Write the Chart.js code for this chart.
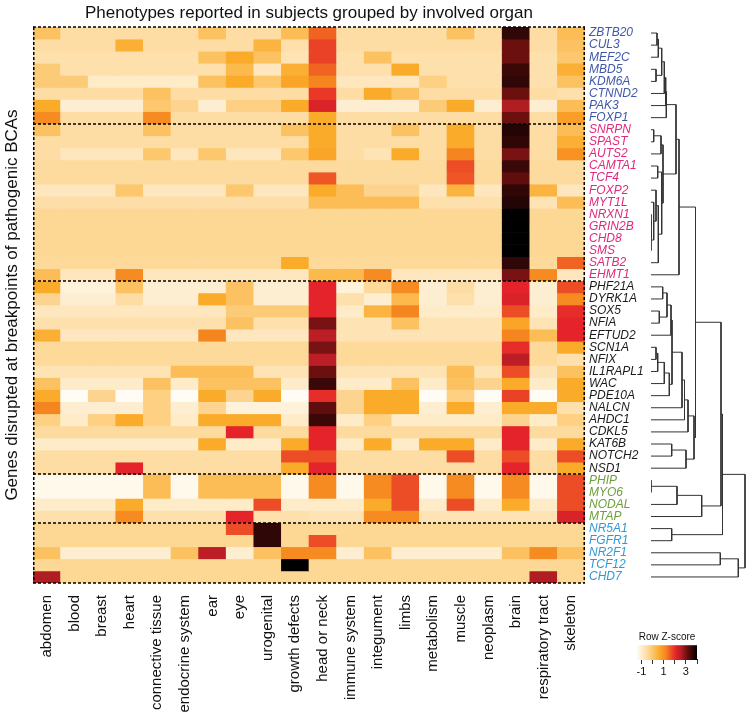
<!DOCTYPE html>
<html>
<head>
<meta charset="utf-8">
<script src="https://cdn.jsdelivr.net/npm/chart.js@4.4.1/dist/chart.umd.min.js"></script>
<style>
body{margin:0;background:#fff;width:754px;height:722px;position:relative;overflow:hidden}
canvas{position:absolute}
</style>
</head>
<body>
<canvas id="heat" width="754" height="722" style="left:0;top:0"></canvas>
<canvas id="dendro" width="109" height="722" style="left:645px;top:0"></canvas>
<canvas id="key" width="150" height="52" style="left:600px;top:628px"></canvas>
<script>
const FONT="'Liberation Sans', Arial, sans-serif";

const organs=['abdomen','blood','breast','heart','connective tissue','endocrine system','ear','eye','urogenital','growth defects','head or neck','immune system','integument','limbs','metabolism','muscle','neoplasm','brain','respiratory tract','skeleton'];

const genes=['ZBTB20','CUL3','MEF2C','MBD5','KDM6A','CTNND2','PAK3','FOXP1',
 'SNRPN','SPAST','AUTS2','CAMTA1','TCF4','FOXP2','MYT1L','NRXN1','GRIN2B','CHD8','SMS','SATB2','EHMT1',
 'PHF21A','DYRK1A','SOX5','NFIA','EFTUD2','SCN1A','NFIX','IL1RAPL1','WAC','PDE10A','NALCN','AHDC1','CDKL5','KAT6B','NOTCH2','NSD1',
 'PHIP','MYO6','NODAL','MTAP',
 'NR5A1','FGFR1','NR2F1','TCF12','CHD7'];

const groupSizes=[8,13,16,4,5];
const groupColors=['#3f58a8','#e0287c','#1a1a1a','#6f9e3c','#2f98d6'];

// row Z-scores, one row per gene, columns follow organs
const zScores=[
 [0.1,-0.5,-0.5,-0.5,-0.5,-0.5,0.1,-0.5,-0.5,0.2,1.5,-0.5,-0.5,-0.5,-0.5,0.1,-0.5,3.6,-0.5,0.2],
 [-0.5,-0.5,-0.5,0.5,-0.5,-0.5,-0.5,-0.5,0.4,-0.6,1.8,-0.5,-0.5,-0.5,-0.5,-0.5,-0.5,3.1,-0.5,0.1],
 [-0.6,-0.6,-0.6,-0.6,-0.6,-0.6,0.1,0.6,0.1,-0.7,1.8,-0.6,0.1,-0.6,-0.6,-0.6,-0.6,3.1,-0.6,0.0],
 [-0.1,-0.6,-0.6,-0.6,-0.6,-0.6,-0.6,0.3,-0.8,0.5,1.5,-0.6,-0.6,0.6,-0.6,-0.6,-0.6,3.5,-0.6,0.5],
 [-0.1,-0.1,-0.9,-0.9,-0.9,-0.9,0.1,0.6,0.0,0.7,1.2,-0.8,-0.8,-0.8,-0.2,-0.6,-0.6,3.6,-0.6,0.1],
 [-0.5,-0.5,-0.5,-0.5,0.1,-0.5,-0.5,-0.5,-0.5,-0.5,1.9,-0.5,0.6,0.1,-0.5,-0.5,-0.5,3.1,-0.5,-0.6],
 [0.6,-1.0,-1.0,-1.0,0.0,-0.3,-1.0,-0.2,-0.2,0.6,2.2,-1.0,-1.0,-1.0,-0.1,0.6,-1.0,2.6,-1.0,0.2],
 [1.1,-0.5,-0.5,-0.5,1.1,-0.5,-0.5,-0.5,-0.5,-0.5,0.6,-0.5,-0.5,-0.5,-0.5,-0.5,-0.5,3.1,-0.5,0.8],
 [0.1,-0.5,-0.5,-0.5,0.1,-0.5,-0.5,-0.5,-0.5,0.1,0.6,-0.5,-0.5,0.1,-0.5,0.6,-0.5,3.7,-0.5,0.2],
 [-0.5,-0.5,-0.5,-0.5,-0.5,-0.5,-0.5,-0.5,-0.5,-0.5,0.6,-0.5,-0.5,-0.5,-0.5,0.6,-0.5,3.6,-0.5,0.5],
 [-0.5,-0.8,-0.8,-0.8,0.0,-0.8,0.0,-0.8,-0.8,0.0,0.7,-0.5,-0.7,0.6,-0.5,1.2,-0.5,3.0,-0.5,1.0],
 [-0.45,-0.45,-0.45,-0.45,-0.45,-0.45,-0.45,-0.45,-0.45,-0.45,-0.45,-0.45,-0.45,-0.45,-0.45,1.7,-0.45,3.5,-0.45,-0.45],
 [-0.45,-0.45,-0.45,-0.45,-0.45,-0.45,-0.45,-0.45,-0.45,-0.45,1.6,-0.45,-0.45,-0.45,-0.45,1.6,-0.45,3.2,-0.45,-0.45],
 [-0.8,-0.8,-0.8,0.0,-0.8,-0.8,-0.8,0.0,-0.8,-0.8,0.6,0.2,-0.3,-0.3,-0.8,0.4,-0.8,3.6,0.4,-0.8],
 [-0.55,-0.55,-0.55,-0.55,-0.55,-0.55,-0.55,-0.55,-0.55,-0.55,0.2,0.2,0.2,0.2,-0.6,-0.6,-0.6,3.7,-0.7,0.2],
 [-0.35,-0.35,-0.35,-0.35,-0.35,-0.35,-0.35,-0.35,-0.35,-0.35,-0.35,-0.35,-0.35,-0.35,-0.35,-0.35,-0.35,4.0,-0.35,-0.35],
 [-0.35,-0.35,-0.35,-0.35,-0.35,-0.35,-0.35,-0.35,-0.35,-0.35,-0.35,-0.35,-0.35,-0.35,-0.35,-0.35,-0.35,4.0,-0.35,-0.35],
 [-0.35,-0.35,-0.35,-0.35,-0.35,-0.35,-0.35,-0.35,-0.35,-0.35,-0.35,-0.35,-0.35,-0.35,-0.35,-0.35,-0.35,4.0,-0.35,-0.35],
 [-0.35,-0.35,-0.35,-0.35,-0.35,-0.35,-0.35,-0.35,-0.35,-0.35,-0.35,-0.35,-0.35,-0.35,-0.35,-0.35,-0.35,4.0,-0.35,-0.35],
 [-0.4,-0.4,-0.4,-0.4,-0.4,-0.4,-0.4,-0.4,-0.4,0.6,-0.4,-0.4,-0.4,-0.4,-0.4,-0.4,-0.4,3.6,-0.4,1.5],
 [0.2,-0.8,-0.8,1.1,-0.8,-0.8,-0.8,-0.8,-0.8,-0.8,0.3,0.3,1.1,-0.8,-0.8,-0.8,-0.8,3.0,1.1,-0.8],
 [0.6,-1.1,-1.1,0.1,-1.0,-1.0,-1.0,0.1,-1.0,-1.0,2.1,-1.1,-0.4,1.1,-1.0,-0.5,-1.0,2.1,-1.0,1.7],
 [-0.3,-1.0,-1.0,-0.5,-1.0,-1.0,0.6,0.1,-1.0,-1.0,2.1,-0.6,-1.0,0.3,-1.0,-0.6,-1.0,2.2,-1.0,1.1],
 [-0.8,-0.8,-0.8,-0.8,-0.8,-0.8,-0.8,-0.1,-0.1,-0.1,2.1,-0.9,0.4,1.2,-0.9,-0.9,-0.9,1.7,-0.9,2.0],
 [-0.6,-0.6,-0.6,-0.6,-0.6,-0.6,-0.6,0.1,-0.6,-0.6,3.0,-0.7,-0.7,0.1,-0.7,-0.7,-0.7,0.7,-0.7,2.1],
 [0.5,-0.8,-0.8,-0.8,-0.8,-0.8,1.2,-0.8,-0.8,-0.8,2.5,-0.7,-0.7,-0.7,-0.7,-0.7,-0.7,1.2,0.2,2.1],
 [-0.4,-0.4,-0.4,-0.4,-0.4,-0.4,-0.4,-0.4,-0.4,-0.4,3.0,-0.4,-0.4,-0.4,-0.4,-0.4,-0.4,2.0,-0.4,0.6],
 [-0.4,-0.4,-0.4,-0.4,-0.4,-0.4,-0.4,-0.4,-0.4,-0.4,2.5,-0.4,-0.4,-0.4,-0.4,-0.4,-0.4,2.5,-0.4,-0.6],
 [-0.7,-0.7,-0.7,-0.7,-0.7,0.2,0.2,0.2,-0.7,-0.7,3.1,-0.7,-0.7,-0.7,-0.7,0.2,-0.7,1.7,-0.7,0.1],
 [0.1,-0.9,-0.9,-0.9,0.1,-0.9,0.1,0.1,0.1,-0.9,3.5,-0.9,-0.9,0.1,-0.9,0.1,-0.3,0.6,-0.9,0.6],
 [0.6,-1.4,-0.3,-1.4,-0.2,-1.4,0.6,-0.3,0.6,-1.4,2.0,-0.3,0.6,0.6,-1.4,-0.2,-1.4,1.8,-1.4,0.6],
 [1.2,-1.0,-1.0,-1.0,-0.2,-1.0,-0.3,-1.1,-1.1,-1.1,3.2,-0.3,0.6,0.6,-1.0,0.6,-1.0,0.6,0.6,-0.6],
 [-0.2,-0.9,-0.2,0.6,-0.2,-0.9,0.6,0.6,0.6,-0.9,3.5,-0.9,-0.2,-0.9,-0.9,-0.9,-0.9,-0.3,-0.9,-0.2],
 [-0.45,-0.45,-0.45,-0.45,-0.45,-0.45,-0.45,2.1,-0.45,-0.45,2.1,-0.45,-0.45,-0.45,-0.45,-0.45,-0.45,2.1,-0.45,-0.45],
 [-0.9,-0.9,-0.9,-0.9,-0.9,-0.9,0.6,-0.9,-0.9,0.6,2.1,-0.9,0.6,-0.9,0.6,0.6,-0.9,2.1,-0.9,0.6],
 [-0.5,-0.5,-0.5,-0.5,-0.5,-0.5,-0.5,-0.5,-0.5,1.7,1.7,-0.5,-0.5,-0.5,-0.5,1.7,-0.5,1.7,-0.5,1.7],
 [-0.5,-0.5,-0.5,2.1,-0.5,-0.5,-0.5,-0.5,-0.5,0.6,2.1,-0.5,-0.5,-0.5,-0.5,-0.5,-0.5,2.1,-0.5,0.6],
 [-1.3,-1.3,-1.3,-1.3,0.2,-1.3,0.2,0.2,0.2,-1.3,1.1,-1.3,1.1,1.7,-1.3,1.1,-1.3,1.1,-1.3,1.7],
 [-1.3,-1.3,-1.3,-1.3,0.2,-1.3,0.2,0.2,0.2,-1.3,1.1,-1.3,1.1,1.7,-1.3,1.1,-1.3,1.1,-1.3,1.7],
 [-0.9,-0.9,-0.9,0.6,-0.9,-0.9,-0.9,-0.9,1.7,-0.9,-0.9,-0.9,0.6,1.7,-0.9,1.7,-0.9,0.6,-0.9,1.7],
 [-0.6,-0.6,-0.6,1.1,-0.6,-0.6,-0.6,2.1,-0.6,-0.6,-0.7,-0.7,1.1,1.1,-0.7,-0.7,-0.7,-0.7,-0.7,2.2],
 [-0.35,-0.35,-0.35,-0.35,-0.35,-0.35,-0.35,1.7,3.6,-0.35,-0.35,-0.35,-0.35,-0.35,-0.35,-0.35,-0.35,-0.35,-0.35,-0.35],
 [-0.35,-0.35,-0.35,-0.35,-0.35,-0.35,-0.35,-0.35,3.6,-0.35,1.7,-0.35,-0.35,-0.35,-0.35,-0.35,-0.35,-0.35,-0.35,-0.35],
 [0.1,-1.0,-1.0,-1.0,-1.0,0.1,2.5,-1.0,0.1,1.1,1.1,-1.0,0.1,-1.0,-1.0,-1.0,-1.0,0.1,1.1,0.1],
 [-0.35,-0.35,-0.35,-0.35,-0.35,-0.35,-0.35,-0.35,-0.35,4.0,-0.35,-0.35,-0.35,-0.35,-0.35,-0.35,-0.35,-0.35,-0.35,-0.35],
 [2.6,-0.35,-0.35,-0.35,-0.35,-0.35,-0.35,-0.35,-0.35,-0.35,-0.35,-0.35,-0.35,-0.35,-0.35,-0.35,-0.35,-0.35,2.6,-0.35]
];

// row dendrogram, hclust style: negative = gene (1-based), positive = earlier merge; last = height
const merges=[
 [-1,-2,6],[1,-3,7.3],[-4,-5,5],[2,3,10.7],[4,-6,13.3],[5,-7,14.7],[6,-8,15.3],
 [-9,-10,2.7],[8,-11,10],[-12,-13,6.7],[-16,-17,0],[11,-18,0],[12,-19,0],
 [-15,13,2.7],[-14,14,5],[15,-20,7.3],[10,16,10.7],[9,17,12],[7,18,25],[19,-21,28],
 [-22,-23,11.7],[-24,-25,8.3],[21,22,16],[23,-26,20],[-27,-28,5],[25,-29,6.7],[26,-30,13.3],
 [27,-31,18.3],[24,28,21],[29,-32,31],[30,-33,33.5],[31,-34,37],[-35,-36,20.7],[33,-37,35],[32,34,43],
 [20,35,44.5],
 [-38,-39,0],[37,-40,26],[38,-41,50.7],[-42,-43,20.7],[-44,-45,69.3],[41,-46,87.3],
 [36,39,70],[43,40,71.5],[44,42,94]
];

const keyRange=[-1.4,4.0];
const keyTicks=[-1,0,1,2,3,4];
const keyLabels=[-1,1,3];

const zStops=[-1.4,-0.4,0.6,1.2,1.7,2.1,2.6,3.1,4.0];
const zColors=['#fffcf5','#fdd99a','#fbab2a','#f5851f','#ec4c26','#e5232a','#b01d23','#6b0f0f','#000000'];

function hexRgb(h){return [1,3,5].map(i=>parseInt(h.slice(i,i+2),16));}
function heatColor(z){
  if(z<=zStops[0])return zColors[0];
  for(let i=1;i<zStops.length;i++){
    if(z<=zStops[i]){
      const t=(z-zStops[i-1])/(zStops[i]-zStops[i-1]);
      const a=hexRgb(zColors[i-1]),b=hexRgb(zColors[i]);
      return 'rgb('+a.map((v,k)=>Math.round(v+(b[k]-v)*t)).join(',')+')';
    }
  }
  return zColors[zColors.length-1];
}

const geneGroup=[];
groupSizes.forEach((n,g)=>{for(let i=0;i<n;i++)geneGroup.push(g);});

const groupBoxes={
  id:'groupBoxes',
  afterDatasetsDraw(c){
    const {ctx,chartArea:a,scales:{y}}=c;
    ctx.save();
    ctx.strokeStyle='#000';ctx.lineWidth=1.5;ctx.setLineDash([3,2]);
    ctx.beginPath();
    let start=0;
    const lines=[0];
    groupSizes.forEach(n=>{start+=n;lines.push(start);});
    lines.forEach(v=>{const py=Math.round(y.getPixelForValue(v));ctx.moveTo(a.left,py);ctx.lineTo(a.right,py);});
    ctx.moveTo(a.left+0.75,a.top);ctx.lineTo(a.left+0.75,a.bottom);
    ctx.moveTo(a.right-0.75,a.top);ctx.lineTo(a.right-0.75,a.bottom);
    ctx.stroke();
    ctx.restore();
  }
};

new Chart(document.getElementById('heat'),{
  type:'bar',
  data:{
    labels:organs,
    datasets:genes.map((g,r)=>({
      label:g,data:organs.map(()=>1),
      backgroundColor:zScores[r].map(heatColor),
      borderWidth:0,barPercentage:1,categoryPercentage:1,
      xAxisID:'x',yAxisID:'y'
    }))
  },
  options:{
    responsive:false,animation:false,devicePixelRatio:1,
    layout:{padding:0},
    plugins:{
      legend:{display:false},tooltip:{enabled:false},
      title:{display:true,fullSize:false,text:'Phenotypes reported in subjects grouped by involved organ',
        color:'#111',font:{family:FONT,size:17,weight:'normal',lineHeight:1.2},padding:{top:3,bottom:3.6}}
    },
    scales:{
      x:{type:'category',stacked:true,position:'bottom',
        grid:{display:false},border:{display:false},
        ticks:{minRotation:90,maxRotation:90,autoSkip:false,color:'#111',padding:4,font:{family:FONT,size:15}},
        afterFit(s){s.height=139;}},
      y:{type:'linear',stacked:true,position:'right',reverse:true,min:0,max:46,
        grid:{display:false,drawTicks:false},border:{display:false},
        afterBuildTicks(s){s.ticks=genes.map((g,i)=>({value:i+0.5}));},
        ticks:{autoSkip:false,padding:4,callback:(v,i)=>genes[i],
          color:ctx=>groupColors[geneGroup[ctx.index]],
          font:{family:FONT,size:12,style:'italic'}},
        afterFit(s){s.width=169;}},
      yl:{type:'linear',position:'left',min:0,max:1,
        grid:{display:false},border:{display:false},ticks:{display:false},
        title:{display:true,text:'Genes disrupted at breakpoints of pathogenic BCAs',color:'#111',
          font:{family:FONT,size:17},padding:{top:2,bottom:0}},
        afterFit(s){s.width=33;}}
    }
  },
  plugins:[groupBoxes]
});

// dendrogram segments from the merge table
const nodes=[];
const dendroPts=[];
const nodeAt=id=>id<0?{y:-id-0.5,h:0}:nodes[id-1];
merges.forEach(([a,b,h])=>{
  const A=nodeAt(a),B=nodeAt(b);
  dendroPts.push({x:A.h,y:A.y},{x:h,y:A.y},{x:h,y:B.y},{x:B.h,y:B.y},{x:NaN,y:NaN});
  nodes.push({y:(A.y+B.y)/2,h});
});

new Chart(document.getElementById('dendro'),{
  type:'scatter',
  data:{datasets:[{data:dendroPts,showLine:true,spanGaps:false,borderColor:'#333',borderWidth:1,pointRadius:0}]},
  options:{
    responsive:false,animation:false,devicePixelRatio:1,
    layout:{padding:{left:6,right:3,top:27,bottom:139}},
    plugins:{legend:{display:false},tooltip:{enabled:false}},
    scales:{
      x:{type:'linear',min:0,max:100,display:false},
      y:{type:'linear',min:0,max:46,reverse:true,display:false}
    }
  }
});

const keyBar={
  id:'keyBar',
  beforeDatasetsDraw(c){
    const {ctx,chartArea:a,scales:{x}}=c;
    const g=ctx.createLinearGradient(x.getPixelForValue(keyRange[0]),0,x.getPixelForValue(keyRange[1]),0);
    zStops.forEach((z,i)=>g.addColorStop((z-keyRange[0])/(keyRange[1]-keyRange[0]),zColors[i]));
    ctx.save();ctx.fillStyle=g;ctx.fillRect(a.left,a.top,a.right-a.left,a.bottom-a.top);ctx.restore();
  }
};

new Chart(document.getElementById('key'),{
  type:'scatter',
  data:{datasets:[]},
  options:{
    responsive:false,animation:false,devicePixelRatio:1,
    layout:{padding:{left:37,right:53,top:0,bottom:0}},
    plugins:{legend:{display:false},tooltip:{enabled:false},
      title:{display:true,fullSize:false,text:'Row Z-score',color:'#111',font:{family:FONT,size:10,weight:'normal',lineHeight:1.2},padding:{top:3,bottom:2.2}}},
    scales:{
      x:{type:'linear',min:keyRange[0],max:keyRange[1],
        grid:{display:true,drawOnChartArea:false,drawTicks:true,tickLength:4,color:'#333'},
        border:{display:true,color:'#333',width:1},
        afterBuildTicks(s){s.ticks=keyTicks.map(v=>({value:v}));},
        ticks:{autoSkip:false,minRotation:0,maxRotation:0,padding:1,color:'#111',font:{family:FONT,size:11},
          callback:v=>keyLabels.includes(v)?String(v):''},
        afterFit(s){s.height=20;}},
      y:{type:'linear',min:0,max:1,display:false}
    }
  },
  plugins:[keyBar]
});
</script>
</body>
</html>
